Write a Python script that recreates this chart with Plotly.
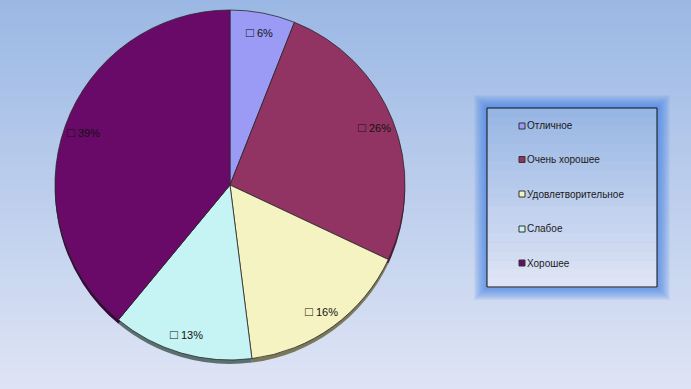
import math
import plotly.graph_objects as go

# ---- data ----
categories = ["Отличное", "Очень хорошее", "Удовлетворительное", "Слабое", "Хорошее"]
values = [6, 26, 16, 13, 39]
colors = ["#9B9BF5", "#923463", "#F5F3C2", "#C6F3F3", "#690A69"]
shadow_colors = ["#4A4A80", "#4A1A33", "#7A785A", "#5A7070", "#3A053A"]

W, H = 691, 389
cx, cy, R = 230, 185, 175  # pie center / radius in px (layout only)

def px(x):
    return x / W

def py(y):
    return (H - y) / H

shapes = []
# gradient background
top = (155, 184, 228)
bot = (222, 228, 245)
N = 80
for i in range(N):
    t = i / (N - 1)
    c = tuple(round(top[k] + (bot[k] - top[k]) * t) for k in range(3))
    shapes.append(dict(type="rect", xref="paper", yref="paper", layer="below",
                       x0=0, x1=1, y0=1 - (i + 1) / N - 0.002, y1=1 - i / N,
                       fillcolor="rgb(%d,%d,%d)" % c, line=dict(width=0)))

# legend glow + box
lx0, lx1, ly0, ly1 = 487, 657, 108, 287
for g in range(13, 0, -1):
    shapes.append(dict(type="rect", xref="paper", yref="paper", layer="below",
                       x0=px(lx0 - g), x1=px(lx1 + g), y0=py(ly1 + g), y1=py(ly0 - g),
                       fillcolor="rgba(70,130,230,0.08)", line=dict(width=0)))
# inner gradient of legend box
M = 20
for i in range(M):
    t = i / (M - 1)
    a = (152, 182, 228)
    b = (222, 228, 245)
    c = tuple(round(a[k] + (b[k] - a[k]) * t) for k in range(3))
    yy0 = ly0 + (ly1 - ly0) * i / M
    yy1 = ly0 + (ly1 - ly0) * (i + 1) / M + 0.6
    shapes.append(dict(type="rect", xref="paper", yref="paper", layer="below",
                       x0=px(lx0), x1=px(lx1), y0=py(yy1), y1=py(yy0),
                       fillcolor="rgb(%d,%d,%d)" % c, line=dict(width=0)))
shapes.append(dict(type="rect", xref="paper", yref="paper", layer="above",
                   x0=px(lx0), x1=px(lx1), y0=py(ly1), y1=py(ly0),
                   fillcolor="rgba(0,0,0,0)", line=dict(color="#111111", width=1)))

annotations = []
# legend items
item_y = [126, 159.5, 194, 229, 263]
for name, col, yy in zip(categories, colors, item_y):
    shapes.append(dict(type="rect", xref="paper", yref="paper", layer="above",
                       x0=px(519), x1=px(525), y0=py(yy + 3), y1=py(yy - 3),
                       fillcolor=col, line=dict(color="#333333", width=1)))
    annotations.append(dict(x=px(525), y=py(yy), xref="paper", yref="paper",
                            text=name, showarrow=False, xanchor="left", yanchor="middle",
                            font=dict(family="Liberation Sans, Arial", size=10, color="#1a1a1a")))

# data labels at slice mid-angles
total = sum(values)
cum = 0
for v in values:
    mid = (cum + v / 2) / total * 2 * math.pi
    cum += v
    r = 0.89 * R
    x = cx + r * math.sin(mid)
    y = cy - r * math.cos(mid)
    annotations.append(dict(x=px(x), y=py(y), xref="paper", yref="paper",
                            text="<span style='font-size:13px'>□</span> %d%%" % v, showarrow=False,
                            xanchor="center", yanchor="middle",
                            font=dict(family="Liberation Sans, Arial", size=11, color="#111111")))

fig = go.Figure()
# 3D-like shadow pie
fig.add_trace(go.Pie(labels=categories, values=values, sort=False, direction="clockwise",
                     rotation=0, textinfo="none", hoverinfo="skip", showlegend=False,
                     marker=dict(colors=shadow_colors, line=dict(width=0)),
                     domain=dict(x=[px(cx - R), px(cx + R)], y=[py(cy + R + 4), py(cy - R + 4)])))
fig.add_trace(go.Pie(labels=categories, values=values, sort=False, direction="clockwise",
                     rotation=0, textinfo="none", showlegend=False,
                     marker=dict(colors=colors, line=dict(color="#2a2a2a", width=0.8)),
                     domain=dict(x=[px(cx - R), px(cx + R)], y=[py(cy + R), py(cy - R)])))

fig.update_layout(width=W, height=H, margin=dict(l=0, r=0, t=0, b=0),
                  paper_bgcolor="rgb(190,206,237)", plot_bgcolor="rgba(0,0,0,0)",
                  showlegend=False, shapes=shapes, annotations=annotations)
fig.write_html("out.html", config={"displayModeBar": False},
               post_script="document.body.style.margin='0';document.body.style.overflow='hidden';")
